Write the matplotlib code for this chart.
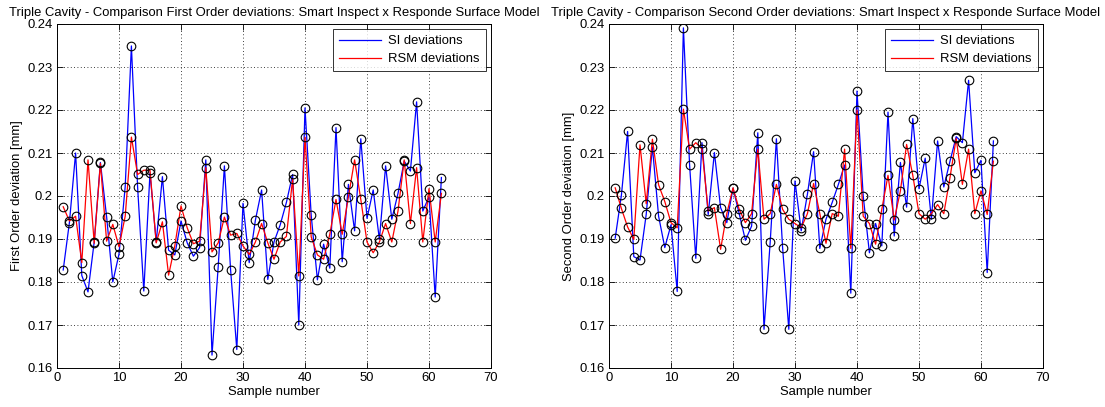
import matplotlib
matplotlib.use("Agg")
import matplotlib.pyplot as plt
from matplotlib.ticker import FuncFormatter, MultipleLocator

plt.rcParams['font.family'] = ['Liberation Sans', 'DejaVu Sans']

samples = list(range(1, 63))

si_first = [0.1828, 0.1938, 0.2100, 0.1815, 0.1777, 0.1893, 0.2078, 0.1952, 0.1800, 0.1865,
            0.2022, 0.2349, 0.2021, 0.1779, 0.2054, 0.1893, 0.2045, 0.1874, 0.1863, 0.1942,
            0.1891, 0.1860, 0.1880, 0.2084, 0.1630, 0.1836, 0.2070, 0.1828, 0.1643, 0.1983,
            0.1845, 0.1944, 0.2014, 0.1806, 0.1893, 0.1933, 0.1985, 0.2050, 0.1700, 0.2205,
            0.1955, 0.1805, 0.1888, 0.1832, 0.2159, 0.1847, 0.2027, 0.1919, 0.2133, 0.1948,
            0.2014, 0.1899, 0.2070, 0.1946, 0.2006, 0.2081, 0.2058, 0.2219, 0.1965, 0.1998,
            0.1765, 0.2043]
rsm_first = [0.1975, 0.1942, 0.1953, 0.1845, 0.2084, 0.1890, 0.2076, 0.1895, 0.1934, 0.1882,
             0.1953, 0.2137, 0.2050, 0.2060, 0.2060, 0.1891, 0.1940, 0.1816, 0.1884, 0.1977,
             0.1926, 0.1889, 0.1895, 0.2066, 0.1870, 0.1891, 0.1951, 0.1909, 0.1913, 0.1884,
             0.1864, 0.1893, 0.1936, 0.1891, 0.1853, 0.1893, 0.1906, 0.2039, 0.1814, 0.2137,
             0.1905, 0.1863, 0.1853, 0.1911, 0.1992, 0.1911, 0.1998, 0.2084, 0.1992, 0.1893,
             0.1868, 0.1893, 0.1936, 0.1893, 0.1965, 0.2084, 0.1936, 0.2066, 0.1893, 0.2017,
             0.1893, 0.2006]

si_second = [0.1902, 0.2002, 0.2150, 0.1859, 0.1851, 0.1957, 0.2114, 0.1953, 0.1880, 0.1933,
             0.1778, 0.2391, 0.2072, 0.1855, 0.2124, 0.1957, 0.2101, 0.1973, 0.1938, 0.2018,
             0.1959, 0.1897, 0.1930, 0.2147, 0.1690, 0.1893, 0.2133, 0.1880, 0.1690, 0.2035,
             0.1919, 0.2004, 0.2103, 0.1878, 0.1946, 0.1985, 0.2027, 0.2072, 0.1774, 0.2244,
             0.2000, 0.1868, 0.1936, 0.1884, 0.2195, 0.1907, 0.2078, 0.1974, 0.2180, 0.2017,
             0.2088, 0.1946, 0.2128, 0.2021, 0.2081, 0.2138, 0.2124, 0.2269, 0.2054, 0.2083,
             0.1822, 0.2128]
rsm_second = [0.2019, 0.1971, 0.1928, 0.1899, 0.2119, 0.1982, 0.2132, 0.2026, 0.1987, 0.1938,
              0.1926, 0.2202, 0.2109, 0.2124, 0.2109, 0.1965, 0.1973, 0.1876, 0.1959, 0.2019,
              0.1969, 0.1938, 0.1959, 0.2109, 0.1946, 0.1959, 0.2027, 0.1969, 0.1946, 0.1936,
              0.1926, 0.1959, 0.2029, 0.1959, 0.1890, 0.1959, 0.1953, 0.2109, 0.1878, 0.2200,
              0.1953, 0.1936, 0.1888, 0.1969, 0.2048, 0.1944, 0.2012, 0.2120, 0.2048, 0.1959,
              0.1946, 0.1959, 0.1980, 0.1959, 0.2043, 0.2134, 0.2027, 0.2109, 0.1959, 0.2012,
              0.1957, 0.2081]

titles = ["Triple Cavity - Comparison First Order deviations: Smart Inspect x Responde Surface Model",
          "Triple Cavity - Comparison Second Order deviations: Smart Inspect x Responde Surface Model"]
ylabels = ["First Order deviation [mm]", "Second Order deviation [mm]"]
xlabel = "Sample number"
legend_labels = ["SI deviations", "RSM deviations"]

W, H = 1105, 407
fig = plt.figure(figsize=(W / 100, H / 100), dpi=100, facecolor='white')

axes_px = [(57, 24, 434, 344), (609, 24, 434, 344)]
panels = [(si_first, rsm_first), (si_second, rsm_second)]

fmt = FuncFormatter(lambda v, p: ('%g' % round(v, 4)))
fs = 9.4

for (x0, y0, w, h), (si, rsm), title, ylab in zip(axes_px, panels, titles, ylabels):
    ax = fig.add_axes([x0 / W, 1 - (y0 + h) / H, w / W, h / H])
    ax.plot(samples, si, color=(0, 0, 1), lw=0.9, label=legend_labels[0], zorder=2)
    ax.plot(samples, rsm, color=(1, 0, 0), lw=0.9, label=legend_labels[1], zorder=3)
    ax.plot(samples, si, ls='none', marker='o', ms=6.2, mfc='none', mec='black', mew=0.8, zorder=4)
    ax.plot(samples, rsm, ls='none', marker='o', ms=6.2, mfc='none', mec='black', mew=0.8, zorder=4)
    ax.set_xlim(0, 70)
    ax.set_ylim(0.16, 0.24)
    ax.xaxis.set_major_locator(MultipleLocator(10))
    ax.yaxis.set_major_locator(MultipleLocator(0.01))
    ax.yaxis.set_major_formatter(fmt)
    ax.grid(True, color='black', ls=(0, (1, 3)), lw=0.6)
    ax.tick_params(direction='in', top=True, right=True, labelsize=fs, length=4, width=0.6,
                   colors='black', pad=3)
    for s in ax.spines.values():
        s.set_linewidth(0.7)
    ax.set_title(title, fontsize=fs, pad=6)
    ax.set_ylabel(ylab, fontsize=fs, labelpad=3)
    ax.set_xlabel(xlabel, fontsize=fs, labelpad=1)
    leg = ax.legend(loc='upper right', fontsize=fs, frameon=True, fancybox=False,
                    borderaxespad=0.4, handlelength=3.2, handletextpad=0.6,
                    borderpad=0.45, labelspacing=0.45)
    leg.get_frame().set_edgecolor('black')
    leg.get_frame().set_linewidth(0.7)

fig.savefig("out.png", dpi=100, facecolor='white')
